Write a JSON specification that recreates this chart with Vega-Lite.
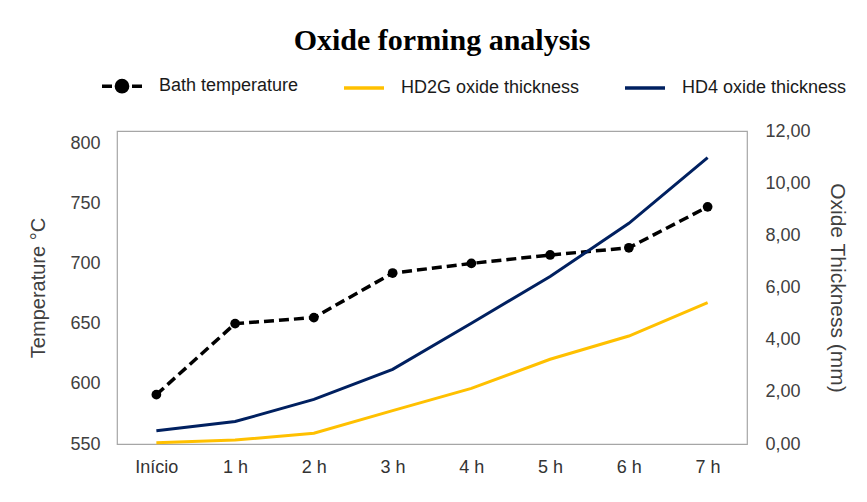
{
  "$schema": "https://vega.github.io/schema/vega-lite/v6.json",
  "autosize": "none",
  "width": 630,
  "height": 313,
  "padding": {"left": 117, "top": 131, "right": 120, "bottom": 58},
  "background": "white",
  "title": {
    "text": "Oxide forming analysis",
    "font": "Liberation Serif",
    "fontSize": 30,
    "fontWeight": "bold",
    "color": "black",
    "anchor": "middle",
    "offset": 8,
    "dx": 10
  },
  "config": {
    "font": "Liberation Sans",
    "view": {"stroke": "#a6a6a6", "strokeWidth": 1.2},
    "axis": {
      "grid": false,
      "domain": false,
      "ticks": false,
      "labelFont": "Liberation Sans",
      "labelFontSize": 18,
      "labelColor": "#404040",
      "titleFont": "Liberation Sans",
      "titleFontWeight": "normal",
      "titleColor": "#404040"
    },
    "legend": {
      "labelFont": "Liberation Sans",
      "labelFontSize": 18,
      "labelColor": "#1a1a1a",
      "labelLimit": 400,
      "symbolSize": 1600,
      "symbolType": "stroke",
      "labelOffset": 15,
      "columnPadding": 38
    }
  },
  "data": {
    "values": [
      {"time": "Início", "series": "Bath temperature", "value": 591},
      {"time": "1 h", "series": "Bath temperature", "value": 650},
      {"time": "2 h", "series": "Bath temperature", "value": 655},
      {"time": "3 h", "series": "Bath temperature", "value": 692},
      {"time": "4 h", "series": "Bath temperature", "value": 700},
      {"time": "5 h", "series": "Bath temperature", "value": 707},
      {"time": "6 h", "series": "Bath temperature", "value": 713},
      {"time": "7 h", "series": "Bath temperature", "value": 747},
      {"time": "Início", "series": "HD2G oxide thickness", "value": 0.05},
      {"time": "1 h", "series": "HD2G oxide thickness", "value": 0.15},
      {"time": "2 h", "series": "HD2G oxide thickness", "value": 0.41},
      {"time": "3 h", "series": "HD2G oxide thickness", "value": 1.28},
      {"time": "4 h", "series": "HD2G oxide thickness", "value": 2.13},
      {"time": "5 h", "series": "HD2G oxide thickness", "value": 3.25},
      {"time": "6 h", "series": "HD2G oxide thickness", "value": 4.14},
      {"time": "7 h", "series": "HD2G oxide thickness", "value": 5.42},
      {"time": "Início", "series": "HD4 oxide thickness", "value": 0.51},
      {"time": "1 h", "series": "HD4 oxide thickness", "value": 0.86},
      {"time": "2 h", "series": "HD4 oxide thickness", "value": 1.71},
      {"time": "3 h", "series": "HD4 oxide thickness", "value": 2.86},
      {"time": "4 h", "series": "HD4 oxide thickness", "value": 4.63},
      {"time": "5 h", "series": "HD4 oxide thickness", "value": 6.42},
      {"time": "6 h", "series": "HD4 oxide thickness", "value": 8.46},
      {"time": "7 h", "series": "HD4 oxide thickness", "value": 10.98}
    ]
  },
  "encoding": {
    "x": {
      "field": "time",
      "type": "ordinal",
      "sort": ["Início", "1 h", "2 h", "3 h", "4 h", "5 h", "6 h", "7 h"],
      "scale": {"type": "point", "padding": 0.5},
      "axis": {"title": null, "labelAngle": 0, "labelPadding": 14, "labelColor": "#333333"}
    }
  },
  "layer": [
    {
      "transform": [{"filter": "datum.series === 'Bath temperature'"}],
      "mark": {
        "type": "line",
        "strokeDash": [10, 5],
        "strokeWidth": 3.5,
        "point": {"filled": true, "size": 95, "color": "black", "opacity": 1}
      },
      "encoding": {
        "y": {
          "field": "value",
          "type": "quantitative",
          "scale": {"domain": [550, 810], "nice": false, "zero": false},
          "axis": {
            "orient": "left",
            "values": [550, 600, 650, 700, 750, 800],
            "title": "Temperature °C",
            "titleFontSize": 20,
            "labelPadding": 17,
            "titlePadding": 21
          }
        },
        "color": {
          "field": "series",
          "type": "nominal",
          "scale": {
            "domain": ["Bath temperature", "HD2G oxide thickness", "HD4 oxide thickness"],
            "range": ["#000000", "#FFC000", "#002060"]
          },
          "legend": {
            "title": null,
            "orient": "none",
            "direction": "horizontal",
            "legendX": -17,
            "legendY": -67,
            "encode": {
              "symbols": {
                "update": {
                  "shape": {"signal": "datum.value === 'Bath temperature' ? 'M-1,0L-0.5,0M0.5,0L1,0M0.28,0A0.28,0.28,0,1,1,-0.28,0A0.28,0.28,0,1,1,0.28,0Z' : 'stroke'"},
                  "fill": {"signal": "datum.value === 'Bath temperature' ? '#000000' : 'transparent'"},
                  "strokeWidth": {"value": 3.5},
                  "strokeDash": {"value": []},
                  "opacity": {"value": 1}
                }
              }
            }
          }
        }
      }
    },
    {
      "transform": [{"filter": "datum.series !== 'Bath temperature'"}],
      "mark": {"type": "line", "strokeWidth": 3},
      "encoding": {
        "y": {
          "field": "value",
          "type": "quantitative",
          "scale": {"domain": [0, 12], "nice": false},
          "axis": {
            "orient": "right",
            "values": [0, 2, 4, 6, 8, 10, 12],
            "labelExpr": "replace(format(datum.value, '.2f'), '.', ',')",
            "title": "Oxide Thickness (mm)",
            "titleFontSize": 21,
            "labelPadding": 18,
            "titlePadding": 16
          }
        },
        "color": {
          "field": "series",
          "type": "nominal",
          "scale": {
            "domain": ["Bath temperature", "HD2G oxide thickness", "HD4 oxide thickness"],
            "range": ["#000000", "#FFC000", "#002060"]
          },
          "legend": {
            "title": null,
            "orient": "none",
            "direction": "horizontal",
            "legendX": -17,
            "legendY": -67,
            "encode": {
              "symbols": {
                "update": {
                  "shape": {"signal": "datum.value === 'Bath temperature' ? 'M-1,0L-0.5,0M0.5,0L1,0M0.28,0A0.28,0.28,0,1,1,-0.28,0A0.28,0.28,0,1,1,0.28,0Z' : 'stroke'"},
                  "fill": {"signal": "datum.value === 'Bath temperature' ? '#000000' : 'transparent'"},
                  "strokeWidth": {"value": 3.5},
                  "strokeDash": {"value": []},
                  "opacity": {"value": 1}
                }
              }
            }
          }
        }
      }
    }
  ],
  "resolve": {"scale": {"y": "independent"}}
}
